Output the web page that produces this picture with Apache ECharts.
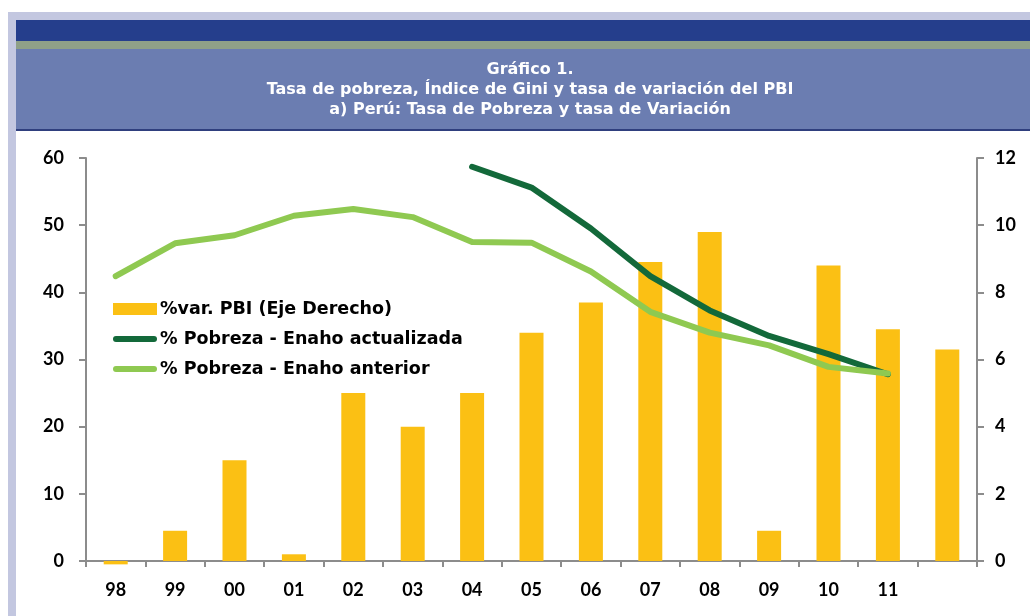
<!DOCTYPE html>
<html>
<head>
<meta charset="utf-8">
<script src="https://cdn.jsdelivr.net/npm/echarts@6/dist/echarts.min.js"></script>
<style>
  html, body { margin: 0; padding: 0; background: #fff; }
  #chart { width: 1030px; height: 616px; }
</style>
</head>
<body>
<div id="chart"></div>
<script>
// años (el último sin etiqueta)
const years = ['98', '99', '00', '01', '02', '03', '04', '05', '06', '07', '08', '09', '10', '11', ''];
// %var. PBI (eje derecho)
const pbiVar = [-0.1, 0.9, 3.0, 0.2, 5.0, 4.0, 5.0, 6.8, 7.7, 8.9, 9.8, 0.9, 8.8, 6.9, 6.3];
// % pobreza - Enaho actualizada
const pobrezaActualizada = [null, null, null, null, null, null, 58.7, 55.6, 49.5, 42.4, 37.3, 33.5, 30.8, 27.8, null];
// % pobreza - Enaho anterior
const pobrezaAnterior = [42.4, 47.3, 48.5, 51.4, 52.4, 51.2, 47.5, 47.4, 43.1, 37.1, 34.0, 32.1, 28.9, 27.9, null];

const titleLines = ['Gráfico 1.', 'Tasa de pobreza, Índice de Gini y tasa de variación del PBI', 'a) Perú: Tasa de Pobreza y tasa de Variación'];

const font = 'Lato, "Open Sans", sans-serif';
const wideFont = '"DejaVu Sans", Lato, sans-serif';
const axisColor = '#8c8c8c';
const lineIcon = 'path://M3,0 L41,0 A3,3 0 0 1 41,6 L3,6 A3,3 0 0 1 3,0 Z';

const chart = echarts.init(document.getElementById('chart'));

chart.setOption({
  animation: false,
  backgroundColor: '#fff',
  graphic: [
    // marco lila
    { type: 'rect', shape: { x: 8, y: 12, width: 1022, height: 8 }, style: { fill: '#c3c7e0' }, silent: true },
    { type: 'rect', shape: { x: 8, y: 12, width: 8, height: 604 }, style: { fill: '#c3c7e0' }, silent: true },
    // bandas del encabezado
    { type: 'rect', shape: { x: 16, y: 20, width: 1014, height: 21 }, style: { fill: '#253e8c' }, silent: true },
    { type: 'rect', shape: { x: 16, y: 41, width: 1014, height: 8 }, style: { fill: '#8fa088' }, silent: true },
    { type: 'rect', shape: { x: 16, y: 49, width: 1014, height: 81 }, style: { fill: '#6b7db1' }, silent: true },
    { type: 'rect', shape: { x: 16, y: 129, width: 1014, height: 2 }, style: { fill: '#2f3f7e' }, silent: true },
    {
      type: 'text',
      x: 530,
      y: 60,
      style: {
        text: titleLines.join('\n'),
        fill: '#fff',
        font: 'bold 16px ' + wideFont,
        lineHeight: 20,
        align: 'center',
        verticalAlign: 'top'
      },
      silent: true
    }
  ],
  legend: {
    orient: 'vertical',
    left: 113,
    top: 300,
    padding: 0,
    itemWidth: 44,
    itemHeight: 12,
    itemGap: 12,
    textStyle: { fontFamily: wideFont, fontWeight: 'bold', fontSize: 17.5, color: '#000', padding: [0, 0, 0, -2] },
    data: [
      { name: '%var. PBI (Eje Derecho)', icon: 'rect' },
      { name: '% Pobreza - Enaho actualizada', icon: lineIcon },
      { name: '% Pobreza - Enaho anterior', icon: lineIcon }
    ]
  },
  grid: { left: 86, right: 53, top: 158, bottom: 55 },
  xAxis: {
    type: 'category',
    data: years,
    boundaryGap: true,
    axisLine: { onZero: false, lineStyle: { color: axisColor, width: 2 } },
    axisTick: { show: true, interval: 0, length: 6, lineStyle: { color: axisColor, width: 2 } },
    axisLabel: { interval: 0, margin: 20, color: '#000', fontFamily: font, fontWeight: 'bold', fontSize: 18 },
    splitLine: { show: false }
  },
  yAxis: [
    {
      type: 'value',
      min: 0,
      max: 60,
      interval: 10,
      position: 'left',
      axisLine: { show: true, lineStyle: { color: axisColor, width: 2 } },
      axisTick: { show: true, length: 7, lineStyle: { color: axisColor, width: 2 } },
      axisLabel: { margin: 22, color: '#000', fontFamily: font, fontWeight: 'bold', fontSize: 18 },
      splitLine: { show: false }
    },
    {
      type: 'value',
      min: 0,
      max: 12,
      interval: 2,
      position: 'right',
      axisLine: { show: true, lineStyle: { color: axisColor, width: 2 } },
      axisTick: { show: true, length: 7, lineStyle: { color: axisColor, width: 2 } },
      axisLabel: { margin: 18, color: '#000', fontFamily: font, fontWeight: 'bold', fontSize: 18 },
      splitLine: { show: false }
    }
  ],
  series: [
    {
      name: '%var. PBI (Eje Derecho)',
      type: 'bar',
      yAxisIndex: 1,
      barWidth: 24,
      clip: false,
      data: pbiVar,
      itemStyle: { color: '#fbc014' }
    },
    {
      name: '% Pobreza - Enaho actualizada',
      type: 'line',
      yAxisIndex: 0,
      data: pobrezaActualizada,
      showSymbol: false,
      symbol: 'none',
      itemStyle: { color: '#13693a' },
      lineStyle: { color: '#13693a', width: 6, cap: 'round', join: 'round' }
    },
    {
      name: '% Pobreza - Enaho anterior',
      type: 'line',
      yAxisIndex: 0,
      data: pobrezaAnterior,
      showSymbol: false,
      symbol: 'none',
      itemStyle: { color: '#8fc951' },
      lineStyle: { color: '#8fc951', width: 6, cap: 'round', join: 'round' }
    }
  ]
});
</script>
</body>
</html>
